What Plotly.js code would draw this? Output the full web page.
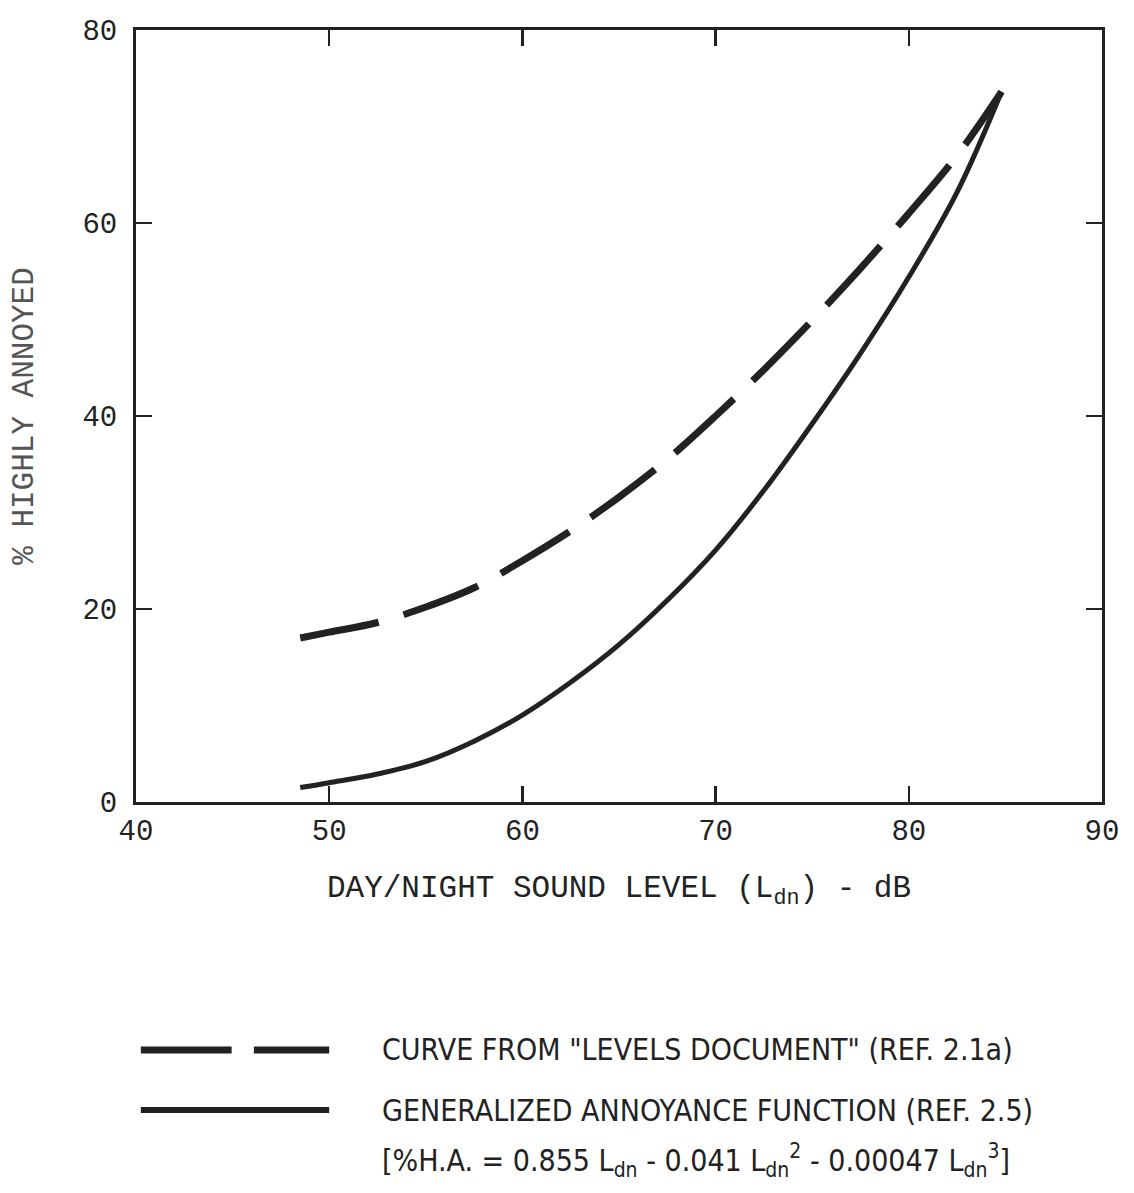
<!DOCTYPE html>
<html>
<head>
<meta charset="utf-8">
<script src="https://cdn.plot.ly/plotly-3.0.1.min.js"></script>
<style>html,body{margin:0;padding:0;background:#fff;}</style>
</head>
<body>
<div id="chart" style="width:1134px;height:1193px;"></div>
<script>
// Day/Night sound level (Ldn, dB)
const ldnLevels = [48.5, 50, 52.5, 55, 57.5, 60, 62.5, 65, 67.5, 70, 72.5, 75, 77.5, 80, 82.5, 84.8];
// Curve from "Levels Document" (Ref. 2.1a), % highly annoyed
const levelsDocCurve = [17.0, 17.6, 18.6, 20.2, 22.2, 25.0, 28.1, 31.6, 35.5, 40.0, 44.8, 49.9, 55.3, 61.0, 67.0, 73.6];
// Generalized annoyance function (Ref. 2.5), % highly annoyed
const generalizedCurve = [1.5, 2.0, 2.9, 4.2, 6.3, 9.0, 12.4, 16.3, 20.9, 26.1, 32.3, 39.2, 46.5, 54.4, 63.2, 73.6];

const xTicks = [40, 50, 60, 70, 80, 90];
const yTicks = [0, 20, 40, 60, 80];
const legendLabels = [
  'CURVE FROM "LEVELS DOCUMENT" (REF. 2.1a)',
  'GENERALIZED ANNOYANCE FUNCTION (REF. 2.5)',
  '[%H.A. = 0.855 L<sub>dn</sub> - 0.041 L<sub>dn</sub><sup>2</sup> - 0.00047 L<sub>dn</sub><sup>3</sup>]'
];

const ink = '#222222';
const monoFont = 'Liberation Mono, DejaVu Sans Mono, monospace';
const narrowFont = 'Liberation Sans Narrow, DejaVu Sans Condensed, sans-serif';

const traces = [
  {x: ldnLevels, y: levelsDocCurve, type: 'scatter', mode: 'lines', name: legendLabels[0],
   line: {color: ink, width: 7, dash: '80px,26px', shape: 'spline', smoothing: 1}, showlegend: false},
  {x: ldnLevels, y: generalizedCurve, type: 'scatter', mode: 'lines', name: legendLabels[1],
   line: {color: ink, width: 5, shape: 'spline', smoothing: 1}, showlegend: false}
];

const axisCommon = {
  showline: true, linecolor: ink, linewidth: 3, mirror: 'ticks',
  ticks: 'inside', ticklen: 16, tickwidth: 2.5, tickcolor: ink,
  showgrid: false, zeroline: false, tickmode: 'array',
  tickfont: {family: monoFont, size: 29, color: ink}
};

const layout = {
  width: 1134, height: 1193,
  margin: {l: 136, r: 32, t: 30, b: 391},
  paper_bgcolor: '#ffffff', plot_bgcolor: '#ffffff',
  xaxis: Object.assign({}, axisCommon, {
    range: [40, 90], tickvals: xTicks, ticktext: xTicks.map(String),
    ticklabelstandoff: 0,
    title: {text: 'DAY/NIGHT SOUND LEVEL (L<sub>dn</sub>) - dB', font: {family: monoFont, size: 31, color: ink}, standoff: 28}
  }),
  yaxis: Object.assign({}, axisCommon, {
    range: [0, 80], tickvals: yTicks, ticktext: yTicks.map(String),
    ticklabelstandoff: 10,
    title: {text: '% HIGHLY ANNOYED', font: {family: monoFont, size: 31, color: '#555'}, standoff: 40}
  }),
  shapes: [
    {type: 'line', xref: 'paper', yref: 'paper', x0: 0.005, x1: 0.099, y0: -0.3212, y1: -0.3212,
     line: {color: ink, width: 7}},
    {type: 'line', xref: 'paper', yref: 'paper', x0: 0.122, x1: 0.2, y0: -0.3212, y1: -0.3212,
     line: {color: ink, width: 7}},
    {type: 'line', xref: 'paper', yref: 'paper', x0: 0.005, x1: 0.2, y0: -0.399, y1: -0.399,
     line: {color: ink, width: 6}}
  ],
  annotations: [
    {text: legendLabels[0], xref: 'paper', yref: 'paper', x: 0.2526, y: -0.3212, xanchor: 'left', yanchor: 'middle',
     showarrow: false, font: {family: narrowFont, size: 30, color: ink}},
    {text: legendLabels[1], xref: 'paper', yref: 'paper', x: 0.2526, y: -0.399, xanchor: 'left', yanchor: 'middle',
     showarrow: false, font: {family: narrowFont, size: 30, color: ink}},
    {text: legendLabels[2], xref: 'paper', yref: 'paper', x: 0.2526, y: -0.464, xanchor: 'left', yanchor: 'middle',
     showarrow: false, font: {family: narrowFont, size: 30, color: ink}}
  ]
};

Plotly.newPlot('chart', traces, layout, {displayModeBar: false, staticPlot: true});
</script>
</body>
</html>
